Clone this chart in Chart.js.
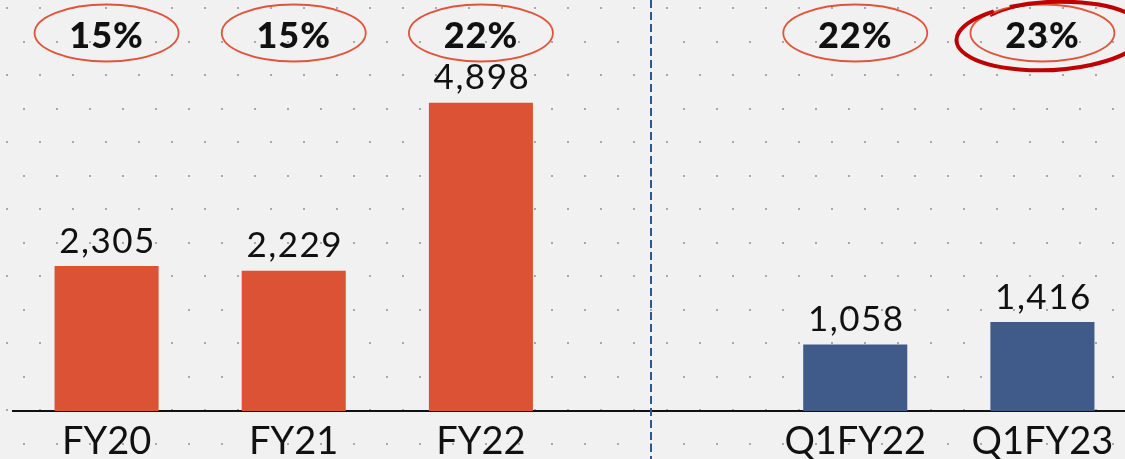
<!DOCTYPE html>
<html>
<head>
<meta charset="utf-8">
<script src="https://cdn.jsdelivr.net/npm/chart.js@4.4.1/dist/chart.umd.min.js"></script>
<style>
    html, body { margin: 0; padding: 0; overflow: hidden; background: #f1f1f1; }
    #wrap { position: relative; width: 1136px; height: 459px; }
</style>
</head>
<body>
<div id="wrap"><canvas id="chartCanvas" width="1136" height="459"></canvas></div>
<script>
// chart values
const categories = ['FY20', 'FY21', 'FY22', '', 'Q1FY22', 'Q1FY23'];
const ebitda = [2305, 2229, 4898, null, 1058, 1416];
const margins = ['15%', '15%', '22%', null, '22%', '23%'];
const barColors = ['#dc5234', '#dc5234', '#dc5234', '#dc5234', '#405a89', '#405a89'];
const highlightIndex = 5;     // the margin circled in red
const dividerPosition = 2.91; // dashed separator, between FY22 and Q1FY22

const fontFamily = 'Lato, "Noto Sans", sans-serif';

function formatValue(v) {
    return v.toLocaleString('en-US');
}

// dotted paper background
const dottedBackground = {
    id: 'dottedBackground',
    beforeDraw(chart) {
        const c = chart.ctx;
        c.save();
        c.fillStyle = '#f1f1f1';
        c.fillRect(0, 0, chart.width, chart.height);
        c.fillStyle = '#a9a9a9';
        let row = 0;
        for (let y = 8; y < chart.height; y += 33.5) {
            const start = row % 2 === 0 ? 7 : 23.5;
            for (let x = start; x < chart.width; x += 33) {
                c.fillRect(Math.round(x) - 1, Math.round(y) - 1, 2, 2);
            }
            row++;
        }
        c.restore();
    }
};

// separator + value labels + margin ovals
const annotations = {
    id: 'annotations',
    afterDatasetsDraw(chart) {
        const c = chart.ctx;
        const xScale = chart.scales.x;
        const meta = chart.getDatasetMeta(0);

        // dashed divider
        const dx = Math.round(xScale.getPixelForValue(dividerPosition));
        c.save();
        c.strokeStyle = '#2a5a8e';
        c.lineWidth = 2;
        c.setLineDash([8, 4]);
        c.beginPath();
        c.moveTo(dx, 0);
        c.lineTo(dx, chart.height);
        c.stroke();
        c.restore();

        c.save();
        c.textAlign = 'center';
        c.fillStyle = '#111';
        meta.data.forEach((bar, i) => {
            if (ebitda[i] == null) return;
            // value above the bar
            c.font = '35px ' + fontFamily;
            c.letterSpacing = '1.5px';
            c.textBaseline = 'bottom';
            c.fillText(formatValue(ebitda[i]), bar.x + 1, bar.y - 7);

            // margin in an oval at the top
            const cx = bar.x;
            const cy = 33;
            c.strokeStyle = '#e0553a';
            c.lineWidth = 1.8;
            c.beginPath();
            c.ellipse(cx, cy, 72, 28.5, 0, 0, Math.PI * 2);
            c.stroke();

            c.font = '900 36px ' + fontFamily;
            c.letterSpacing = '1px';
            c.textBaseline = 'middle';
            c.fillText(margins[i], cx, cy + 3);

            if (i === highlightIndex) {
                c.strokeStyle = '#c00000';
                c.lineWidth = 4;
                c.beginPath();
                c.ellipse(cx + 8, cy + 3, 94, 34, -0.05, -2.0, Math.PI * 2 - 2.2);
                c.stroke();
                c.lineWidth = 2;
                c.beginPath();
                c.moveTo(cx - 52, cy - 17);
                c.quadraticCurveTo(cx - 30, cy - 28, cx + 10, cy - 32);
                c.stroke();
            }
        });
        c.restore();
    }
};

const ctx = document.getElementById('chartCanvas').getContext('2d');
new Chart(ctx, {
    type: 'bar',
    data: {
        labels: categories,
        datasets: [{
            data: ebitda,
            backgroundColor: barColors,
            borderWidth: 0,
            barPercentage: 0.556,
            categoryPercentage: 1
        }]
    },
    options: {
        responsive: false,
        animation: false,
        devicePixelRatio: 1,
        layout: { padding: { left: 13, right: 0, top: 0, bottom: 0 } },
        plugins: {
            legend: { display: false },
            tooltip: { enabled: false }
        },
        scales: {
            x: {
                grid: { display: false, drawTicks: false },
                border: { display: true, color: '#111', width: 2 },
                ticks: {
                    color: '#111',
                    padding: 8,
                    autoSkip: false,
                    maxRotation: 0,
                    minRotation: 0,
                    font: { family: fontFamily, size: 38 }
                },
                afterFit(scale) { scale.height = 48; }
            },
            y: {
                display: false,
                min: 0,
                max: 6530
            }
        }
    },
    plugins: [dottedBackground, annotations]
});
</script>
</body>
</html>
